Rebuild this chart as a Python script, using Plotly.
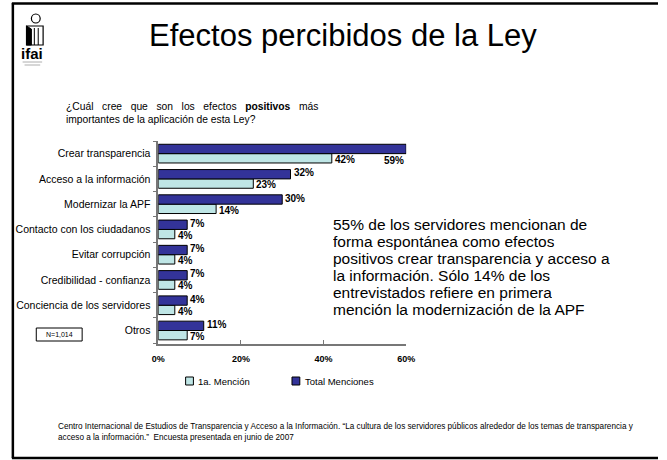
import plotly.graph_objects as go

# ---------------- data ----------------
categories = [
    "Crear transparencia",
    "Acceso a la información",
    "Modernizar la APF",
    "Contacto con los ciudadanos",
    "Evitar corrupción",
    "Credibilidad - confianza",
    "Conciencia de los servidores",
    "Otros",
]
primera_mencion = [42, 23, 14, 4, 4, 4, 4, 7]
total_menciones = [60, 32, 30, 7, 7, 7, 7, 11]
primera_labels = ["42%", "23%", "14%", "4%", "4%", "4%", "4%", "7%"]
total_labels = ["59%", "32%", "30%", "7%", "7%", "7%", "4%", "11%"]
series_names = ["1a. Mención", "Total Menciones"]
x_tick_vals = [0, 20, 40, 60]
x_tick_text = ["0%", "20%", "40%", "60%"]

W, H = 667, 460
FONT = "Liberation Sans, Arial, sans-serif"
LIGHT = "#BFE6E6"
DARK = "#333399"


def px(x):
    return x / W


def py(y):
    return 1 - y / H


fig = go.Figure()
fig.add_trace(go.Bar(
    y=categories, x=primera_mencion, orientation="h", name=series_names[0],
    marker=dict(color=LIGHT, line=dict(color="black", width=1)), showlegend=False,
))
fig.add_trace(go.Bar(
    y=categories, x=total_menciones, orientation="h", name=series_names[1],
    marker=dict(color=DARK, line=dict(color="black", width=1)), showlegend=False,
))

LABEL_FONT = dict(family=FONT, size=10, color="black", weight="bold")
annotations = []
# bar value labels
for cat, v, lab in zip(categories, total_menciones, total_labels):
    if v >= 55:
        annotations.append(dict(x=v, y=cat, xref="x", yref="y", text=lab, showarrow=False,
                                xanchor="right", yanchor="middle", yshift=-7, font=LABEL_FONT))
    else:
        annotations.append(dict(x=v, y=cat, xref="x", yref="y", text=lab, showarrow=False,
                                xanchor="left", yanchor="middle", xshift=1, yshift=6, font=LABEL_FONT))
for cat, v, lab in zip(categories, primera_mencion, primera_labels):
    annotations.append(dict(x=v, y=cat, xref="x", yref="y", text=lab, showarrow=False,
                            xanchor="left", yanchor="middle", xshift=1, yshift=-6, font=LABEL_FONT))

# title
annotations.append(dict(x=px(344), y=py(35), xref="paper", yref="paper", showarrow=False,
                        text="Efectos percibidos de la Ley", xanchor="center", yanchor="middle",
                        font=dict(family=FONT, size=31, color="black")))
# question
nb = "\u00a0"
q1 = (f"¿Cuál{nb*3}cree{nb*3}que{nb*3}son{nb*3}los{nb*3}efectos{nb*3}<b>positivos</b>{nb*3}más")
annotations.append(dict(x=px(58), y=py(113), xref="paper", yref="paper", showarrow=False,
                        text=q1 + "<br>importantes de la aplicación de esta Ley?",
                        xanchor="left", yanchor="middle", align="left",
                        font=dict(family=FONT, size=10.3, color="black")))
# commentary block (one annotation per line to keep the tight line spacing)
block = [
    "55% de los servidores mencionan de",
    "forma espontánea como efectos",
    "positivos crear transparencia y acceso a",
    "la información. Sólo 14% de los",
    "entrevistados refiere en primera",
    "mención la modernización de la APF",
]
for i, line in enumerate(block):
    annotations.append(dict(x=px(332), y=py(224.5 + 17 * i), xref="paper", yref="paper",
                            showarrow=False, text=line, xanchor="left", yanchor="middle",
                            height=17, align="left",
                            font=dict(family=FONT, size=15.5, color="black")))
# N box
annotations.append(dict(x=px(53.5), y=py(334.5), xref="paper", yref="paper", showarrow=False,
                        text="N=1,014", xanchor="center", yanchor="middle",
                        font=dict(family=FONT, size=7, color="black")))
# legend (manual)
annotations.append(dict(x=px(194), y=py(381), xref="paper", yref="paper", showarrow=False,
                        text=series_names[0], xanchor="left", yanchor="middle",
                        font=dict(family=FONT, size=9.5, color="black")))
annotations.append(dict(x=px(303), y=py(381), xref="paper", yref="paper", showarrow=False,
                        text=series_names[1], xanchor="left", yanchor="middle",
                        font=dict(family=FONT, size=9.5, color="black")))
# footer
annotations.append(dict(x=px(50), y=py(432), xref="paper", yref="paper", showarrow=False,
                        text=("Centro Internacional de Estudios de Transparencia y Acceso a la Información. "
                              "\u201cLa cultura de los servidores públicos alrededor de los temas de transparencia y"
                              "<br>acceso a la información.\u201d  Encuesta presentada en junio de 2007"),
                        xanchor="left", yanchor="middle", align="left",
                        font=dict(family=FONT, size=8.2, color="black")))
# logo text
annotations.append(dict(x=px(26), y=py(54), xref="paper", yref="paper", showarrow=False,
                        text="<b>ifai</b>", xanchor="center", yanchor="middle",
                        font=dict(family=FONT, size=15, color="black")))

shapes = [
    # slide border
    dict(type="line", xref="paper", yref="paper", x0=px(6), x1=px(6), y0=py(3), y1=py(458),
         line=dict(color="black", width=2.5)),
    dict(type="line", xref="paper", yref="paper", x0=px(5), x1=1.0, y0=py(3.5), y1=py(3.5),
         line=dict(color="black", width=2.5)),
    dict(type="line", xref="paper", yref="paper", x0=px(5), x1=1.0, y0=py(458), y1=py(458),
         line=dict(color="black", width=2.5)),
    # N box
    dict(type="rect", xref="paper", yref="paper", x0=px(30), x1=px(77), y0=py(341), y1=py(328),
         line=dict(color="black", width=1), fillcolor="rgba(0,0,0,0)"),
    # legend squares
    dict(type="rect", xref="paper", yref="paper", x0=px(183), x1=px(191), y0=py(385), y1=py(377),
         line=dict(color="black", width=1), fillcolor=LIGHT),
    dict(type="rect", xref="paper", yref="paper", x0=px(292), x1=px(300), y0=py(385), y1=py(377),
         line=dict(color="black", width=1), fillcolor=DARK),
    # logo head
    dict(type="circle", xref="paper", yref="paper", x0=px(25), x1=px(34), y0=py(23), y1=py(14),
         line=dict(color="black", width=1.2), fillcolor="white"),
    # logo body
    dict(type="rect", xref="paper", yref="paper", x0=px(20), x1=px(37), y0=py(45), y1=py(26),
         line=dict(color="black", width=1.2), fillcolor="white"),
    dict(type="path", xref="paper", yref="paper",
         path=f"M {px(20)} {py(26)} L {px(25)} {py(29)} L {px(25)} {py(45)} L {px(20)} {py(45)} Z",
         line=dict(color="black", width=1), fillcolor="black"),
    dict(type="line", xref="paper", yref="paper", x0=px(28), x1=px(28), y0=py(45), y1=py(28),
         line=dict(color="black", width=1)),
    dict(type="line", xref="paper", yref="paper", x0=px(32), x1=px(32), y0=py(45), y1=py(28),
         line=dict(color="black", width=1)),
    dict(type="line", xref="paper", yref="paper", x0=px(16), x1=px(36), y0=py(62), y1=py(62),
         line=dict(color="#999", width=0.8)),
    dict(type="line", xref="paper", yref="paper", x0=px(18), x1=px(34), y0=py(65), y1=py(65),
         line=dict(color="#999", width=0.8)),
]

fig.update_layout(
    width=W, height=H,
    margin=dict(l=0, r=0, t=0, b=0),
    paper_bgcolor="white", plot_bgcolor="white",
    barmode="group", bargap=0.26, bargroupgap=0,
    font=dict(family=FONT, color="black"),
    showlegend=False,
    xaxis=dict(domain=[px(155), px(409)], range=[0, 60], tickvals=x_tick_vals, ticktext=x_tick_text,
               showgrid=False, zeroline=False, showline=True, linecolor="#777", linewidth=1.5,
               ticks="inside", ticklen=4, tickcolor="#777", ticklabelstandoff=5,
               tickfont=dict(family=FONT, size=9, color="black", weight="bold"), fixedrange=True),
    yaxis=dict(domain=[py(344), py(141)], categoryorder="array", categoryarray=categories[::-1],
               showgrid=False, zeroline=False, showline=True, linecolor="#777", linewidth=1.5,
               ticks="outside", ticklen=4, tickcolor="#777", tickson="boundaries",
               ticklabelstandoff=4,
               tickfont=dict(family=FONT, size=10.5, color="black"), fixedrange=True),
    annotations=annotations,
    shapes=shapes,
)

fig.write_html("out.html")
